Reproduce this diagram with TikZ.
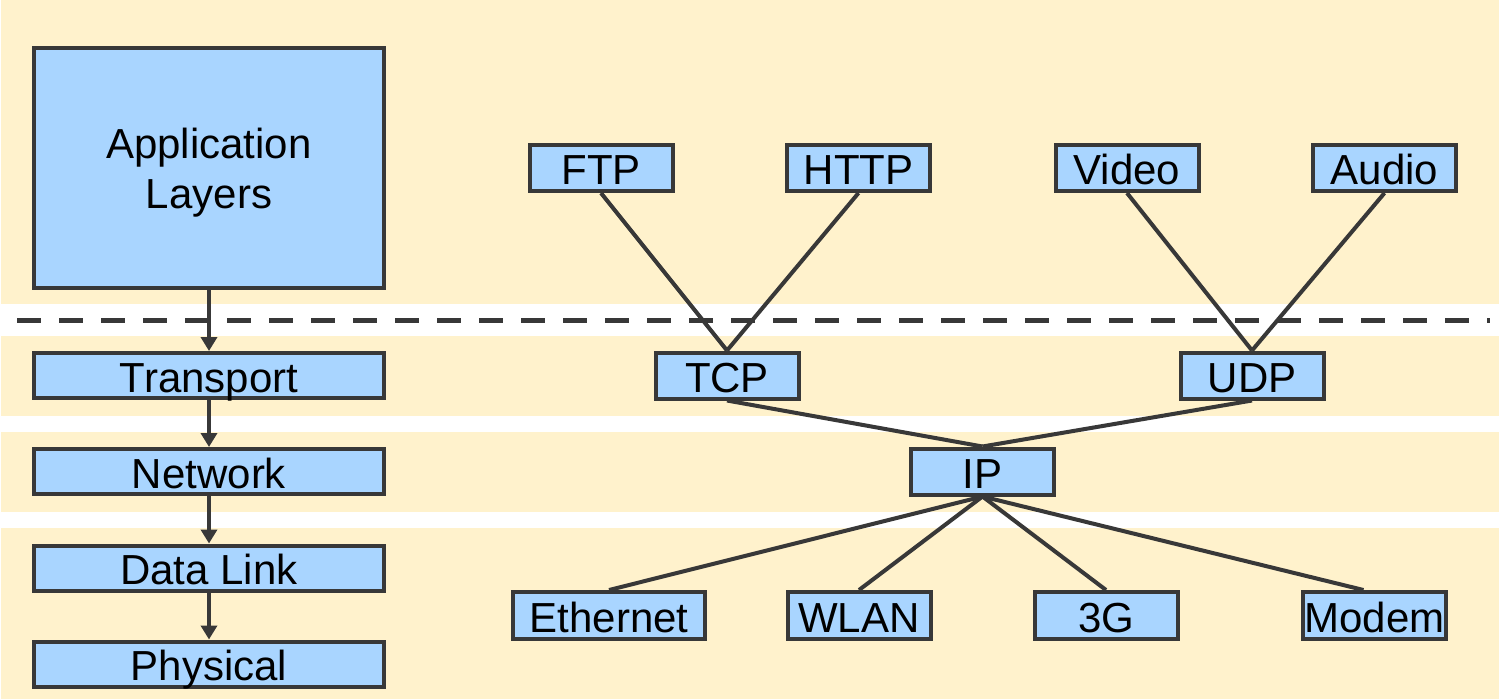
\documentclass[tikz,border=0pt]{standalone}
\usepackage{fontspec}
\setmainfont{Liberation Sans}
\usetikzlibrary{arrows.meta}
\definecolor{band}{HTML}{FFF2CC}
\definecolor{boxfill}{HTML}{A9D5FF}
\definecolor{edge}{HTML}{383838}
\begin{document}
\begin{tikzpicture}[x=1pt,y=-1pt,
  basebox/.style={draw=edge,fill=boxfill,line width=4pt,inner sep=0pt,font=\fontsize{42}{50}\selectfont,text=black},
  oneline/.style={text height=33.5pt,text depth=0pt},
  layerbox/.style={basebox,minimum width=350pt,minimum height=45pt},
  protobox/.style={basebox,oneline,minimum width=143pt,minimum height=46pt},
  link/.style={draw=edge,line width=4pt},
  flow/.style={draw=edge,line width=4pt,-{Triangle[width=16pt,length=14pt]}}]
\useasboundingbox (0,0) rectangle (1499,699);
\fill[white] (0,0) rectangle (1499,699);
\fill[band] (1,0) rectangle (1499,304);
\fill[band] (1,336) rectangle (1499,416);
\fill[band] (1,432) rectangle (1499,512);
\fill[band] (1,528) rectangle (1499,699);
\draw[edge,line width=5pt,dash pattern=on 23.5pt off 18.5pt] (17,320) -- (1490,320);
% left stack
\node[layerbox,minimum height=240pt,align=center,text depth=0pt] (app) at (209,168) {Application\\Layers};
\node[layerbox,oneline] (tra) at (209,375.5) {Transport};
\node[layerbox,oneline] (net) at (209,471.5) {Network};
\node[layerbox,oneline] (dl) at (209,568) {Data Link};
\node[layerbox,oneline] (phy) at (209,664) {Physical};
\draw[flow] (app) -- (tra);
\draw[flow] (tra) -- (net);
\draw[flow] (net) -- (dl);
\draw[flow] (dl) -- (phy);
% protocol tree
\node[protobox] (ftp) at (601,168) {FTP};
\node[protobox] (http) at (858.5,168) {HTTP};
\node[protobox] (video) at (1127,168) {Video};
\node[protobox] (audio) at (1384.5,168) {Audio};
\node[protobox] (tcp) at (727,375.5) {TCP};
\node[protobox] (udp) at (1252,375.5) {UDP};
\node[protobox] (ip) at (982.5,471.5) {IP};
\node[protobox,minimum width=192pt,minimum height=47pt] (eth) at (609,615.5) {Ethernet};
\node[protobox,minimum height=47pt] (wlan) at (859,615.5) {WLAN};
\node[protobox,minimum height=47pt] (g3) at (1106,615.5) {3G};
\node[protobox,minimum height=47pt] (modem) at (1374.5,615.5) {Modem};
\draw[link] (ftp.south) -- (tcp.north);
\draw[link] (http.south) -- (tcp.north);
\draw[link] (video.south) -- (udp.north);
\draw[link] (audio.south) -- (udp.north);
\draw[link] (tcp.south) -- (ip.north);
\draw[link] (udp.south) -- (ip.north);
\draw[link] (ip.south) -- (eth.north);
\draw[link] (ip.south) -- (wlan.north);
\draw[link] (ip.south) -- (g3.north);
\draw[link] (ip.south) -- ([xshift=-11pt]modem.north);
\end{tikzpicture}
\end{document}
